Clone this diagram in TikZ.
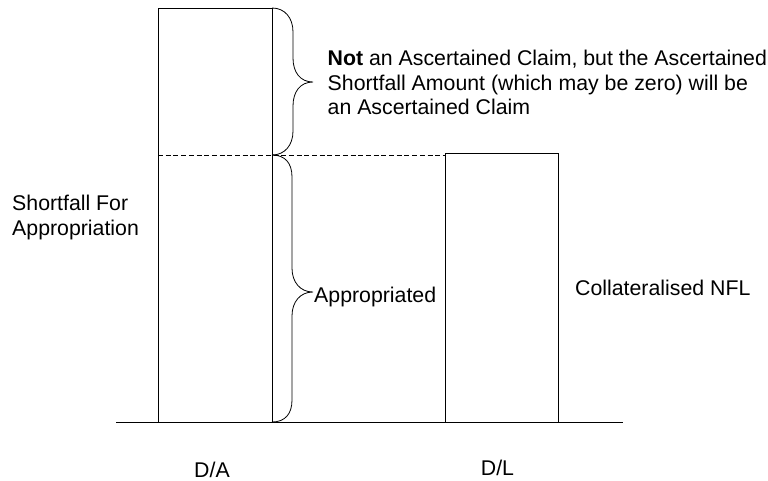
\documentclass[tikz,border=0pt]{standalone}
\usepackage{fontspec}
\setmainfont{Liberation Sans}
\begin{document}
\begin{tikzpicture}[x=1pt,y=-1pt,
  bar/.style={draw=black,line width=0.8pt},
  brc/.style={draw=black,line width=0.8pt},
  lbl/.style={inner sep=0pt,font=\fontsize{21.3}{24.8}\selectfont,text=black},
  dash line/.style={draw=black,line width=0.8pt,dash pattern=on 5pt off 2.7pt}]
\useasboundingbox[fill=white] (0,0) rectangle (768,480);
% bars
\draw[bar] (158,8) rectangle (272,422);
\draw[bar] (445,153) rectangle (558,422);
% base line
\coordinate (b1) at (116,422);
\coordinate (b2) at (623,422);
\draw[bar] (b1) -- (b2);
% dashed line
\coordinate (d1) at (158,155);
\coordinate (d2) at (445,155);
\draw[dash line] (d1) -- (d2);
% upper brace
\draw[brc] (272,8) .. controls (285,8) and (293,18) .. (293,32) -- (293,58)
  .. controls (293,72) and (300,82) .. (313,82)
  .. controls (300,82) and (293,92) .. (293,106) -- (293,131)
  .. controls (293,145) and (285,155) .. (272,155);
% lower brace
\draw[brc] (272,155) .. controls (285,155) and (292,163) .. (292,177) -- (292,268)
  .. controls (292,282) and (300,292) .. (313,292)
  .. controls (300,292) and (292,302) .. (292,316) -- (292,400)
  .. controls (292,414) and (285,422) .. (272,422);
% labels
\node[lbl,anchor=north west,align=left] (sfa) at (12,195.2) {Shortfall For\\Appropriation};
\node[lbl,anchor=north west,align=left] (nac) at (327.5,49.7) {\textbf{Not} an Ascertained Claim, but the Ascertained\\Shortfall Amount (which may be zero) will be\\an Ascertained Claim};
\node[lbl,anchor=base west] (app) at (314,302) {Appropriated};
\node[lbl,anchor=base west] (cnfl) at (575,295) {Collateralised NFL};
\node[lbl,anchor=base] (da) at (212,477) {D/A};
\node[lbl,anchor=base] (dl) at (497.5,475) {D/L};
\end{tikzpicture}
\end{document}
